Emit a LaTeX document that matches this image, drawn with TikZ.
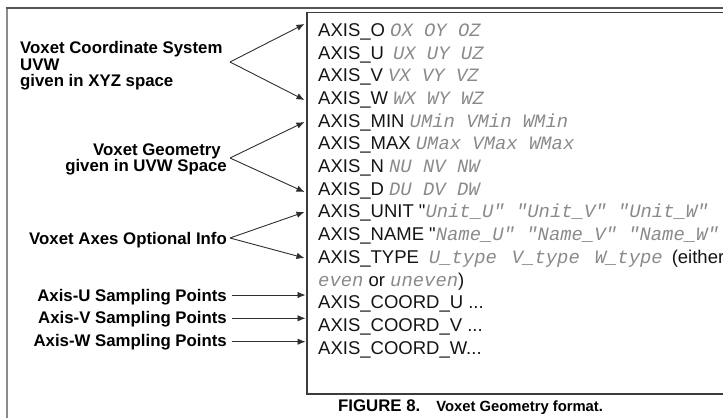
\documentclass[tikz,border=0pt]{standalone}
\usepackage{fontspec}
\setmainfont{Liberation Sans}
\newfontfamily\codefont{Liberation Mono}[Scale=1.02]
\usetikzlibrary{arrows.meta}

\definecolor{framegray}{HTML}{8C8C8C}
\definecolor{frametop}{HTML}{555555}
\definecolor{boxline}{HTML}{3C3C3C}
\definecolor{rowtext}{HTML}{141414}
\definecolor{codegray}{HTML}{8A8A8A}
\definecolor{arrowgray}{HTML}{2E2E2E}

% keyword arguments in the listing: grey italic typewriter
\newcommand\argtt[1]{{\codefont\itshape\color{codegray}#1}}
\newcommand\labfont{\fontsize{16.8}{16.5}\selectfont\bfseries}
\newcommand\rowfont{\fontsize{18.5}{22.7}\selectfont}

\begin{document}
\begin{tikzpicture}[x=1pt, y=-1pt,
  lab/.style={inner sep=0pt, font=\labfont, text=black},
  row/.style={anchor=base west, inner sep=0pt, font=\rowfont, text=rowtext},
  conn/.style={draw=arrowgray, line width=0.9pt, -{Latex[length=8pt,width=6.5pt]}},
]
\useasboundingbox (0,0) rectangle (723,418);
\clip (0,0) rectangle (723,418);

% page frame
\draw[framegray, line width=1.8pt] (7,418) -- (7,8);
\draw[frametop, line width=1.4pt] (6.1,8) -- (740,8);

% listing box (open to the right)
\draw[boxline, line width=1.2pt] (740,12.5) -- (307,12.5) -- (307,394) -- (740,394);

% listing rows
\node[row] (r1)  at (318,36.3)  {AXIS\_O \argtt{OX OY OZ}};
\node[row] (r2)  at (318,59.0)  {AXIS\_U\hspace{9pt}\argtt{UX UY UZ}};
\node[row] (r3)  at (318,81.7)  {AXIS\_V \argtt{VX VY VZ}};
\node[row] (r4)  at (318,104.4) {AXIS\_W \argtt{WX WY WZ}};
\node[row] (r5)  at (318,127.1) {AXIS\_MIN \argtt{UMin VMin WMin}};
\node[row] (r6)  at (318,149.8) {AXIS\_MAX \argtt{UMax VMax WMax}};
\node[row] (r7)  at (318,172.5) {AXIS\_N \argtt{NU NV NW}};
\node[row] (r8)  at (318,195.2) {AXIS\_D \argtt{DU DV DW}};
\node[row] (r9)  at (318,217.9) {AXIS\_UNIT \textquotedbl\argtt{Unit\_U" "Unit\_V" "Unit\_W"}};
\node[row] (r10) at (318,240.6) {AXIS\_NAME \textquotedbl\argtt{Name\_U" "Name\_V" "Name\_W"}};
\node[row] (r11) at (318,263.3) {AXIS\_TYPE\hspace{10pt}\argtt{U\_type}\hspace{15pt}\argtt{V\_type}\hspace{15pt}\argtt{W\_type}\hspace{9pt}(either};
\node[row] (r12) at (318,286.0) {\argtt{even} or \argtt{uneven})};
\node[row] (r13) at (318,308.7) {AXIS\_COORD\_U ...};
\node[row] (r14) at (318,331.4) {AXIS\_COORD\_V ...};
\node[row] (r15) at (318,354.1) {AXIS\_COORD\_W...};

% group labels
\node[lab, anchor=base west] (g1a) at (20,53.5) {Voxet Coordinate System};
\node[lab, anchor=base west] (g1b) at (20,70)   {UVW};
\node[lab, anchor=base west] (g1c) at (20,86.5) {given in XYZ space};
\node[lab, anchor=base east] (g2a) at (221,155.5) {Voxet Geometry};
\node[lab, anchor=base east] (g2b) at (227,171)   {given in UVW Space};
\node[lab, anchor=base east] (g3)  at (227,244.3) {Voxet Axes Optional Info};
\node[lab, anchor=base east] (s1)  at (227,301.5) {Axis-U Sampling Points};
\node[lab, anchor=base east] (s2)  at (227,323.8) {Axis-V Sampling Points};
\node[lab, anchor=base east] (s3)  at (227,346.8) {Axis-W Sampling Points};

% branch points and arrow ends
\coordinate (v1) at (230,62);
\coordinate (v2) at (230,158);
\coordinate (v3) at (230,238);
\coordinate (t1a) at (304.5,24);
\coordinate (t1b) at (304.5,100);
\coordinate (t2a) at (304.5,122);
\coordinate (t2b) at (304.5,192);
\coordinate (t3a) at (304.5,212);
\coordinate (t3b) at (304.5,258);
\coordinate (h1) at (305.5,295);
\coordinate (h2) at (305.5,318.3);
\coordinate (h3) at (305.5,341.7);

\draw[conn] (v1) -- (t1a);
\draw[conn] (v1) -- (t1b);
\draw[conn] (v2) -- (t2a);
\draw[conn] (v2) -- (t2b);
\draw[conn] (v3) -- (t3a);
\draw[conn] (v3) -- (t3b);
\draw[conn] (s1.east |- h1) ++(5,0) -- (h1);
\draw[conn] (s2.east |- h2) ++(5,0) -- (h2);
\draw[conn] (s3.east |- h3) ++(5,0) -- (h3);

% caption
\node[anchor=base west, inner sep=0pt, text=black] (cap) at (338,411.5)
  {{\fontsize{16.8}{20}\selectfont\bfseries FIGURE 8.}\hspace{16pt}{\fontsize{14.8}{18}\selectfont\bfseries Voxet Geometry format.}};
\end{tikzpicture}
\end{document}
